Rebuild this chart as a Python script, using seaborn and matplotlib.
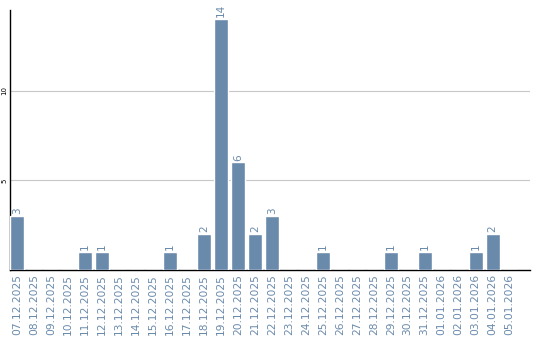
import matplotlib
matplotlib.use("Agg")
import matplotlib.pyplot as plt
import seaborn as sns
import pandas as pd

dates = ["07.12.2025", "08.12.2025", "09.12.2025", "10.12.2025", "11.12.2025",
         "12.12.2025", "13.12.2025", "14.12.2025", "15.12.2025", "16.12.2025",
         "17.12.2025", "18.12.2025", "19.12.2025", "20.12.2025", "21.12.2025",
         "22.12.2025", "23.12.2025", "24.12.2025", "25.12.2025", "26.12.2025",
         "27.12.2025", "28.12.2025", "29.12.2025", "30.12.2025", "31.12.2025",
         "01.01.2026", "02.01.2026", "03.01.2026", "04.01.2026", "05.01.2026"]
values = [3, 0, 0, 0, 1, 1, 0, 0, 0, 1, 0, 2, 14, 6, 2, 3, 0, 0, 1, 0, 0, 0,
          1, 0, 1, 0, 0, 1, 2, 0]
yticks = [5, 10]

sns.set_style("white")
plt.rcParams['font.family'] = ['DejaVu Sans']

bar_color = "#6a8aab"
fig = plt.figure(figsize=(5.4, 3.4), dpi=100)
ax = fig.add_axes([10/540, 70/340, 520/540, 260/340])

df = pd.DataFrame({"date": dates, "value": values})
sns.barplot(data=df, x="date", y="value", color=bar_color, width=0.82,
            saturation=1, ax=ax, zorder=3)

for i, v in enumerate(values):
    if v > 0:
        ax.text(i, v + 0.1, str(v), rotation=90, ha="center", va="bottom",
                fontsize=7.5, color=bar_color)

ax.set_xlim(-0.41, 30.2)
ax.set_ylim(0, 14.5)
ax.set_yticks(yticks)
ax.set_yticklabels([str(t) for t in yticks], rotation=90, va="center",
                   fontsize=5, color="black")
ax.yaxis.grid(True, color="#c8c8c8", linewidth=0.8, zorder=0)
ax.tick_params(axis="y", length=0, pad=2)
ax.tick_params(axis="x", length=0, pad=3)
ax.set_xticks(range(len(dates)))
ax.set_xticklabels(dates, rotation=90, fontsize=7.7, color=bar_color)
ax.set_xlabel("")
ax.set_ylabel("")
for s in ["top", "right"]:
    ax.spines[s].set_visible(False)
ax.spines["left"].set_color("black")
ax.spines["bottom"].set_color("black")
ax.spines["left"].set_linewidth(1)
ax.spines["bottom"].set_linewidth(1)

fig.savefig("out.png", dpi=100)
